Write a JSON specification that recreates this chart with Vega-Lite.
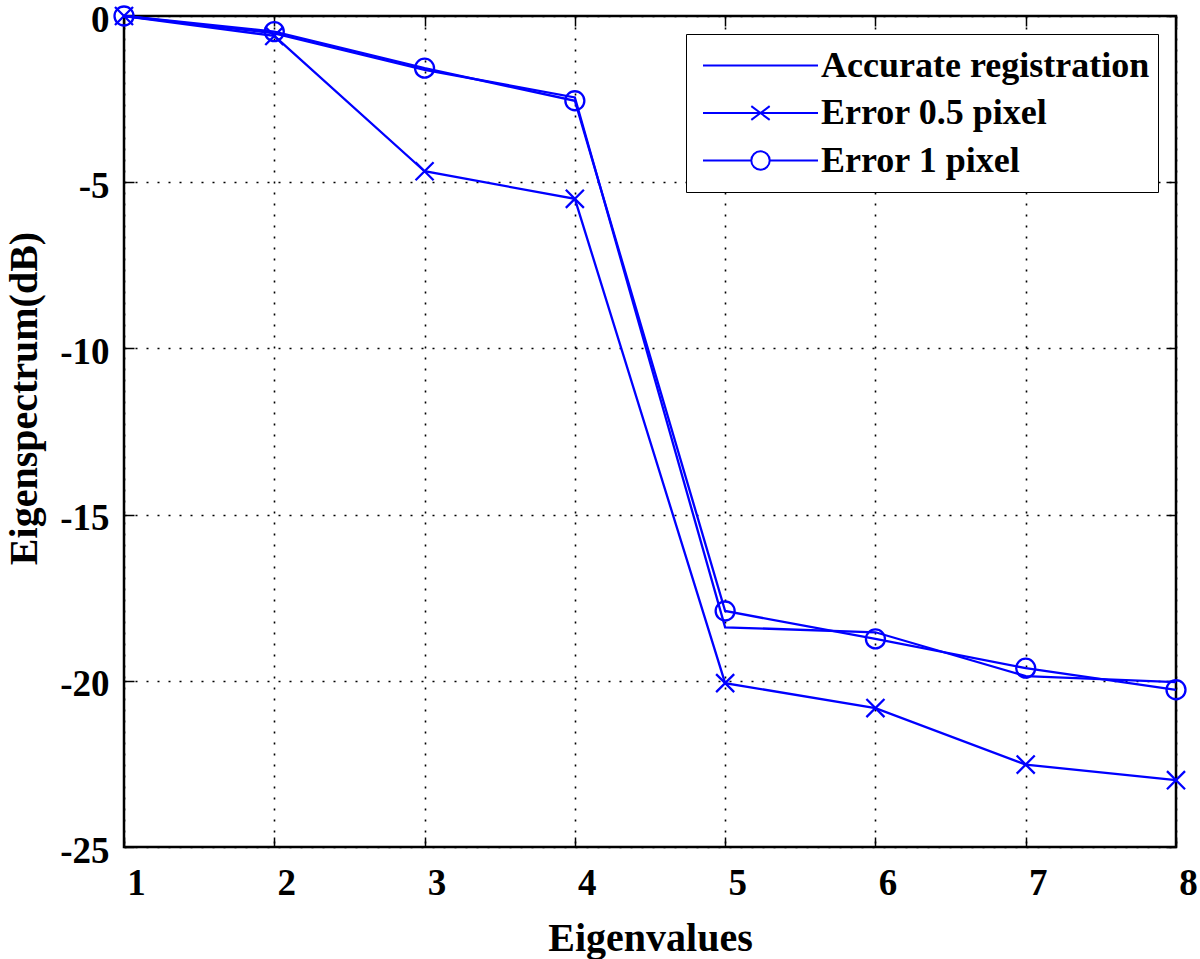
{
  "$schema": "https://vega.github.io/schema/vega-lite/v6.json",
  "width": 1052,
  "height": 831,
  "autosize": {"type": "none"},
  "padding": {"left": 124, "top": 16, "right": 24, "bottom": 112},
  "background": "white",
  "config": {
    "font": "Liberation Serif",
    "view": {"stroke": "black", "strokeWidth": 2.5},
    "axis": {
      "labelFont": "Liberation Serif",
      "labelFontWeight": "bold",
      "labelFontSize": 37,
      "labelColor": "black",
      "titleFont": "Liberation Serif",
      "titleFontWeight": "bold",
      "titleFontSize": 40,
      "titleColor": "black",
      "domain": false,
      "tickColor": "black",
      "tickWidth": 1.5,
      "tickSize": -10,
      "grid": true,
      "gridColor": "black",
      "gridDash": [2, 9],
      "gridWidth": 1.6,
      "gridOpacity": 1
    }
  },
  "data": {
    "values": [
      {"x": 1, "y": 0, "series": "Accurate registration"},
      {"x": 2, "y": -0.52, "series": "Accurate registration"},
      {"x": 3, "y": -1.62, "series": "Accurate registration"},
      {"x": 4, "y": -2.45, "series": "Accurate registration"},
      {"x": 5, "y": -18.39, "series": "Accurate registration"},
      {"x": 6, "y": -18.54, "series": "Accurate registration"},
      {"x": 7, "y": -19.86, "series": "Accurate registration"},
      {"x": 8, "y": -20.04, "series": "Accurate registration"},
      {"x": 1, "y": 0, "series": "Error 0.5 pixel"},
      {"x": 2, "y": -0.6, "series": "Error 0.5 pixel"},
      {"x": 3, "y": -4.67, "series": "Error 0.5 pixel"},
      {"x": 4, "y": -5.5, "series": "Error 0.5 pixel"},
      {"x": 5, "y": -20.07, "series": "Error 0.5 pixel"},
      {"x": 6, "y": -20.82, "series": "Error 0.5 pixel"},
      {"x": 7, "y": -22.52, "series": "Error 0.5 pixel"},
      {"x": 8, "y": -22.99, "series": "Error 0.5 pixel"},
      {"x": 1, "y": 0, "series": "Error 1 pixel"},
      {"x": 2, "y": -0.47, "series": "Error 1 pixel"},
      {"x": 3, "y": -1.57, "series": "Error 1 pixel"},
      {"x": 4, "y": -2.55, "series": "Error 1 pixel"},
      {"x": 5, "y": -17.9, "series": "Error 1 pixel"},
      {"x": 6, "y": -18.74, "series": "Error 1 pixel"},
      {"x": 7, "y": -19.62, "series": "Error 1 pixel"},
      {"x": 8, "y": -20.27, "series": "Error 1 pixel"}
    ]
  },
  "layer": [
    {
      "mark": {"type": "line", "stroke": "#0000ff", "strokeWidth": 2.3},
      "encoding": {
        "detail": {"field": "series"},
        "x": {"field": "x", "type": "quantitative", "scale": {"domain": [1, 8], "nice": false, "zero": false}, "axis": {"orient": "bottom", "values": [1,2,3,4,5,6,7,8], "title": "Eigenvalues", "labelPadding": 28, "labelFlush": false, "labelOffset": 12, "titleX": 526, "titleY": 103, "titleBaseline": "alphabetic", "titleAlign": "center"}},
        "y": {"field": "y", "type": "quantitative", "scale": {"domain": [-25, 0], "nice": false, "zero": false}, "axis": {"orient": "left", "values": [-25,-20,-15,-10,-5,0], "labelExpr": "'' + datum.value", "labelPadding": 25, "labelFlush": false, "labelOffset": 4, "title": "Eigenspectrum(dB)", "titleX": -100, "titleY": 382, "titleAngle": 270, "titleAlign": "center", "titleBaseline": "middle"}}
      }
    },
    {
      "transform": [{"filter": "datum.series != 'Accurate registration'"}],
      "mark": {"type": "point", "filled": false, "stroke": "#0000ff", "strokeWidth": 2.3, "size": 361, "opacity": 1},
      "encoding": {
        "x": {"field": "x", "type": "quantitative", "axis": {"orient": "top", "values": [1,2,3,4,5,6,7,8], "labels": false, "grid": false, "title": null}},
        "y": {"field": "y", "type": "quantitative", "axis": {"orient": "right", "values": [-25,-20,-15,-10,-5,0], "labels": false, "grid": false, "title": null}},
        "shape": {"field": "series", "type": "nominal", "legend": null, "scale": {"domain": ["Error 0.5 pixel", "Error 1 pixel"], "range": ["M-0.95,-0.95L0.95,0.95M-0.95,0.95L0.95,-0.95", "circle"]}}
      }
    },
    {
      "transform": [{"filter": "datum.x == 1"}],
      "mark": {"type": "point", "filled": false, "stroke": "#0000ff", "strokeWidth": 2, "opacity": 0, "size": 13225},
      "encoding": {
        "x": {"field": "x", "type": "quantitative", "axis": null},
        "y": {"field": "y", "type": "quantitative", "axis": null},
        "shape": {
          "field": "series", "type": "nominal",
          "scale": {
            "domain": ["Accurate registration", "Error 0.5 pixel", "Error 1 pixel"],
            "range": [
              "M-1,0L1,0",
              "M-1,0L1,0M-0.16,-0.12L0.16,0.12M-0.16,0.12L0.16,-0.12",
              "M-1,0L-0.16,0M0.16,0L1,0M-0.16,0A0.16,0.16,0,1,1,0.16,0A0.16,0.16,0,1,1,-0.16,0"
            ]
          },
          "legend": {
            "title": null,
            "orient": "top-right",
            "offset": 18,
            "strokeColor": "black",
            "fillColor": "white",
            "padding": 8,
            "symbolOffset": 8,
            "labelOffset": 2,
            "labelLimit": 0,
            "rowPadding": 0.5,
            "clipHeight": 47,
            "labelFont": "Liberation Serif",
            "labelFontWeight": "bold",
            "labelFontSize": 36,
            "labelColor": "black",
            "symbolSize": 13225,
            "symbolStrokeWidth": 2,
            "symbolStrokeColor": "#0000ff",
            "symbolFillColor": "transparent",
            "symbolOpacity": 1,
            "encode": {"symbols": {"update": {"opacity": {"value": 1}, "fill": {"value": "transparent"}, "stroke": {"value": "#0000ff"}, "strokeWidth": {"value": 2}}}}
          }
        }
      }
    }
  ],
  "resolve": {"scale": {"shape": "independent"}, "legend": {"shape": "independent"}}
}
